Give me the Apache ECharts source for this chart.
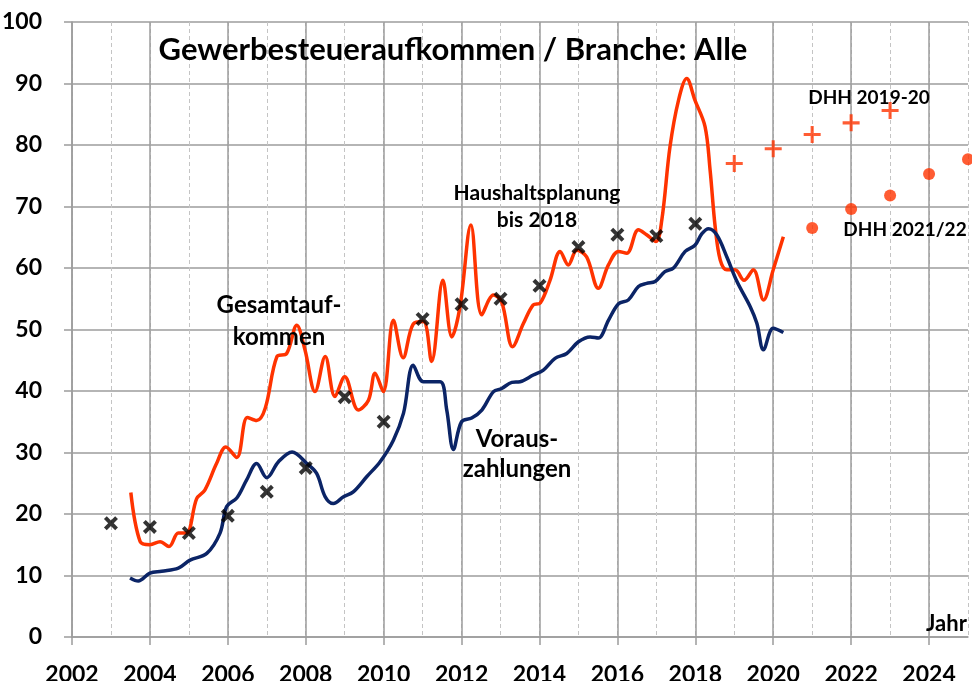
<!DOCTYPE html>
<html>
<head>
<meta charset="utf-8">
<script src="https://cdn.jsdelivr.net/npm/echarts@6/dist/echarts.min.js"></script>
<style>
html,body{margin:0;padding:0;background:#fff;}
#chart{width:972px;height:681px;}
</style>
</head>
<body>
<div id="chart"></div>
<script>
// ---- data ----
const yearTicks = [2002, 2004, 2006, 2008, 2010, 2012, 2014, 2016, 2018, 2020, 2022, 2024];
const valueTicks = [0, 10, 20, 30, 40, 50, 60, 70, 80, 90, 100];

// Gesamtaufkommen (red)
const gesamtYears = [2003.51,2003.75,2004.0,2004.26,2004.49,2004.73,2004.94,2005.2,2005.41,2005.71,2005.95,2006.23,2006.5,2006.74,2006.96,2007.26,2007.51,2007.77,2007.98,2008.24,2008.5,2008.75,2009.0,2009.35,2009.61,2009.78,2009.99,2010.25,2010.5,2010.76,2011.02,2011.23,2011.52,2011.75,2011.96,2012.24,2012.52,2012.82,2013.03,2013.31,2013.59,2013.84,2014.02,2014.27,2014.53,2014.74,2014.96,2015.21,2015.51,2015.77,2016.03,2016.24,2016.54,2016.75,2016.99,2017.14,2017.35,2017.57,2017.78,2017.99,2018.25,2018.38,2018.51,2018.64,2018.81,2019.02,2019.25,2019.49,2019.75,2020.0,2020.26];
const gesamtValues = [23.5,15.5,15.0,15.5,14.7,16.9,16.9,22.5,23.9,28.2,30.9,29.2,35.7,35.2,37.2,45.6,46.1,50.7,46.7,39.9,45.6,39.1,42.3,36.9,38.5,42.9,39.9,51.5,45.4,50.9,51.3,44.8,58.0,48.8,53.7,67.0,52.4,55.6,54.5,47.2,51.0,54.0,54.3,58.0,62.7,60.5,62.9,61.8,56.7,60.5,62.7,62.4,66.2,65.4,64.3,67.8,79.7,87.3,90.8,87.3,83.0,75.9,66.7,61.3,59.7,59.7,58.0,59.7,54.8,59.7,65.1];

// Vorauszahlungen (navy)
const vorausYears = [2003.49,2003.70,2004.0,2004.30,2004.73,2005.03,2005.46,2005.80,2005.97,2006.23,2006.48,2006.74,2007.0,2007.3,2007.65,2008.03,2008.28,2008.50,2008.71,2008.97,2009.22,2009.57,2009.91,2010.25,2010.51,2010.76,2011.02,2011.45,2011.62,2011.79,2012.0,2012.26,2012.52,2012.82,2013.03,2013.29,2013.50,2013.84,2014.10,2014.40,2014.70,2015.0,2015.30,2015.51,2015.77,2016.03,2016.28,2016.54,2016.75,2016.97,2017.22,2017.44,2017.74,2017.99,2018.17,2018.34,2018.55,2018.81,2019.07,2019.41,2019.58,2019.75,2020.0,2020.26];
const vorausValues = [9.6,9.1,10.4,10.7,11.2,12.5,13.6,16.9,21.2,22.6,25.5,28.2,25.9,28.5,30.1,28.2,26.6,22.8,21.7,22.8,23.6,26.1,28.5,32.0,36.4,44.2,41.5,41.5,36.9,30.5,35.0,35.6,36.9,39.9,40.4,41.4,41.5,42.6,43.4,45.3,46.1,48.0,48.8,48.6,51.5,54.2,54.8,57.0,57.5,57.8,59.4,60.0,62.7,63.7,65.6,66.4,65.4,61.8,57.8,53.7,51.0,46.7,50.2,49.5];

// Haushaltsplanung bis 2018 (black x)
const planYears = [2003,2004,2005,2006,2007,2008,2009,2010,2011,2012,2013,2014,2015,2016,2017,2018];
const planValues = [18.5,17.9,16.9,19.7,23.6,27.5,39.0,35.0,51.7,54.1,55.0,57.1,63.4,65.4,65.2,67.2];

// DHH 2019-20 (plus)
const dhh1920Years = [2019,2020,2021,2022,2023];
const dhh1920Values = [77.0,79.4,81.7,83.6,85.6];

// DHH 2021/22 (dots)
const dhh2122Years = [2021,2022,2023,2024,2025];
const dhh2122Values = [66.5,69.6,71.8,75.3,77.7];

// ---- build ----
const zip = (xs, ys) => xs.map((x, i) => [x, ys[i]]);
const FONT = 'Lato';
const gridColor = '#9c9c9c';
const RED = '#FF3300';
const NAVY = '#0B2466';

const xMark = 'path://M2,0 L5,3 L8,0 L10,2 L7,5 L10,8 L8,10 L5,7 L2,10 L0,8 L3,5 L0,2 Z';
const plusMark = 'path://M4.1,0 H5.9 V4.1 H10 V5.9 H5.9 V10 H4.1 V5.9 H0 V4.1 H4.1 Z';

const chart = echarts.init(document.getElementById('chart'), null, {renderer: 'canvas'});

function txt(text, x, y, size, align) {
  return {
    type: 'text', x: x, y: y, z: 100,
    style: {
      text: text, fill: '#000',
      font: 'bold ' + size + 'px ' + FONT,
      textAlign: align || 'center', textVerticalAlign: 'middle'
    }
  };
}

const option = {
  animation: false,
  backgroundColor: '#fff',
  grid: {left: 72, right: 4, top: 22, bottom: 44, containLabel: false, outerBoundsMode: 'none'},
  xAxis: [
    {
      type: 'value', min: 2002, max: 2025, interval: 2, z: 2,
      axisLine: {show: true, onZero: false, lineStyle: {color: gridColor, width: 1.5}},
      axisTick: {show: true, length: 8, lineStyle: {color: gridColor, width: 1.5}},
      axisLabel: {
        show: true, margin: 26, color: '#000', fontFamily: FONT, fontWeight: 'bold', fontSize: 23,
        showMaxLabel: false,
        formatter: v => (yearTicks.indexOf(v) >= 0 ? String(v) : '')
      },
      splitLine: {show: true, showMaxLine: false, lineStyle: {color: gridColor, width: 1.5}}
    },
    {
      type: 'value', min: 2002, max: 2025, interval: 1, z: 0, position: 'bottom',
      axisLine: {show: false}, axisTick: {show: false}, axisLabel: {show: false},
      splitLine: {show: true, lineStyle: {color: '#c4c4c4', width: 1, type: [4, 3]}}
    }
  ],
  yAxis: {
    type: 'value', min: 0, max: 100, interval: 10,
    axisLine: {show: true, lineStyle: {color: gridColor, width: 1.5}},
    axisTick: {show: true, length: 8, lineStyle: {color: gridColor, width: 1.5}},
    axisLabel: {
      margin: 30, color: '#000', fontFamily: FONT, fontWeight: 'bold', fontSize: 23,
      formatter: v => (valueTicks.indexOf(v) >= 0 ? String(v) : '')
    },
    splitLine: {show: true, lineStyle: {color: gridColor, width: 1.5}}
  },
  series: [
    {
      name: 'Gesamtaufkommen', type: 'line', xAxisIndex: 0,
      data: zip(gesamtYears, gesamtValues), smooth: 0.35, showSymbol: false, symbol: 'none',
      lineStyle: {color: RED, width: 3.5}, z: 3
    },
    {
      name: 'Vorauszahlungen', type: 'line', xAxisIndex: 0,
      data: zip(vorausYears, vorausValues), smooth: 0.35, showSymbol: false, symbol: 'none',
      lineStyle: {color: NAVY, width: 3.5}, z: 4
    },
    {
      name: 'Haushaltsplanung', type: 'scatter', xAxisIndex: 0,
      data: zip(planYears, planValues), symbol: xMark, symbolSize: 14,
      itemStyle: {color: '#000'}, z: 5
    },
    {
      name: 'DHH 2019-20', type: 'scatter', xAxisIndex: 0,
      data: zip(dhh1920Years, dhh1920Values), symbol: plusMark, symbolSize: 17,
      itemStyle: {color: RED}, z: 5
    },
    {
      name: 'DHH 2021/22', type: 'scatter', xAxisIndex: 0, clip: false,
      data: zip(dhh2122Years, dhh2122Values), symbol: 'circle', symbolSize: 12,
      itemStyle: {color: RED}, z: 5
    }
  ],
  graphic: [
    txt('Gewerbesteueraufkommen / Branche: Alle', 453, 50, 31),
    txt('DHH 2019-20', 869, 98, 19),
    txt('DHH 2021/22', 905, 230, 19),
    txt('Haushaltsplanung', 537, 193, 21),
    txt('bis 2018', 537, 220, 21),
    txt('Gesamtauf-', 279, 305, 24),
    txt('kommen', 279, 337, 24),
    txt('Voraus-', 517, 439, 24),
    txt('zahlungen', 517, 469, 24),
    txt('Jahr', 926, 624, 22, 'left')
  ]
};
chart.setOption(option);
</script>
</body>
</html>
